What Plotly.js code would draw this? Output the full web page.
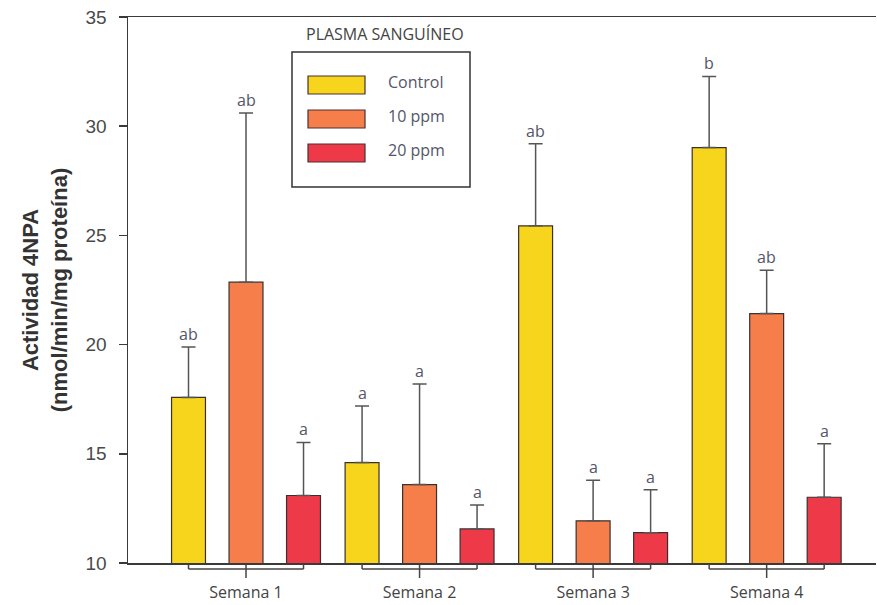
<!DOCTYPE html>
<html>
<head>
<meta charset="utf-8">
<script src="https://cdn.plot.ly/plotly-3.0.1.min.js"></script>
<style>
  html, body { margin: 0; padding: 0; background: #ffffff; }
  #chart { width: 877px; height: 605px; }
</style>
</head>
<body>
<div id="chart"></div>
<script>
// Weekly 4NPA activity in blood plasma, three treatment groups
const weeks = ["Semana 1", "Semana 2", "Semana 3", "Semana 4"];
const seriesNames = ["Control", "10 ppm", "20 ppm"];
const seriesColors = ["#F7D51C", "#F57E4B", "#EE3A48"];

const controlMean = [17.58, 14.60, 25.44, 29.02];
const ppm10Mean   = [22.86, 13.59, 11.93, 21.42];
const ppm20Mean   = [13.09, 11.56, 11.39, 13.01];

const controlErr = [2.31, 2.59, 3.76, 3.26];
const ppm10Err   = [7.74, 4.61, 1.86, 1.99];
const ppm20Err   = [2.43, 1.09, 1.96, 2.45];

// significance letters above each error bar
const controlLetters = ["ab", "a", "ab", "b"];
const ppm10Letters   = ["ab", "a", "a", "ab"];
const ppm20Letters   = ["a", "a", "a", "a"];

const legendTitle = "PLASMA SANGUÍNEO";
const yTitle = "Actividad 4NPA<br>(nmol/min/mg proteína)";

const means = [controlMean, ppm10Mean, ppm20Mean];
const errs = [controlErr, ppm10Err, ppm20Err];
const letters = [controlLetters, ppm10Letters, ppm20Letters];

const BARGAP = 0.006;
const BARGROUPGAP = 0.41;
const slot = (1 - BARGAP) / seriesNames.length;
const offsetOf = k => (k - (seriesNames.length - 1) / 2) * slot;

const lineCol = "#3a3a3a";
const textCol = "#55556a";
const sansCal = "'Open Sans', 'Noto Sans', sans-serif";
const arial = "'Liberation Sans', Arial, sans-serif";

const traces = seriesNames.map((name, k) => ({
  type: "bar",
  name: name,
  x: weeks,
  y: means[k],
  marker: { color: seriesColors[k], line: { color: "#3b3030", width: 1.2 } },
  error_y: {
    type: "data",
    array: errs[k],
    arrayminus: weeks.map(() => 0),
    symmetric: false,
    color: "#555555",
    thickness: 1.5,
    width: 7
  },
  showlegend: false,
  hoverinfo: "x+y"
}));

const annotations = [];
const shapes = [];

// letters above error caps
seriesNames.forEach((name, k) => {
  weeks.forEach((w, i) => {
    annotations.push({
      x: i + offsetOf(k), xref: "x",
      y: means[k][i] + errs[k][i], yref: "y",
      text: letters[k][i],
      showarrow: false,
      yanchor: "bottom",
      yshift: 0,
      font: { family: sansCal, size: 16, color: textCol }
    });
  });
});

// group brackets under the x axis
weeks.forEach((w, i) => {
  const xl = i + offsetOf(0), xr = i + offsetOf(seriesNames.length - 1);
  const common = { xref: "x", yref: "paper", ysizemode: "pixel", yanchor: 0,
                   line: { color: "#444444", width: 1.5 }, layer: "above" };
  shapes.push(Object.assign({ type: "line", x0: xl, x1: xr, y0: -6, y1: -6 }, common));
  shapes.push(Object.assign({ type: "line", x0: xl, x1: xl, y0: -1, y1: -6 }, common));
  shapes.push(Object.assign({ type: "line", x0: xr, x1: xr, y0: -1, y1: -6 }, common));
  shapes.push(Object.assign({ type: "line", x0: i, x1: i, y0: -2, y1: -15 }, common));
});

// boxed legend with the sample title above it
const LX0 = 292, LX1 = 470, LY0 = 52, LY1 = 187;   // pixels
const W = 877, H = 605, ML = 128, MR = 1, MT = 17, MB = 42;
const px = x => (x - ML) / (W - ML - MR);
const py = y => 1 - (y - MT) / (H - MT - MB);

shapes.push({ type: "rect", xref: "paper", yref: "paper",
  x0: px(LX0), x1: px(LX1), y0: py(LY1), y1: py(LY0),
  line: { color: "#333333", width: 1.5 }, fillcolor: "rgba(255,255,255,1)", layer: "above" });
annotations.push({ xref: "paper", yref: "paper", x: px(385), y: py(34),
  text: legendTitle, showarrow: false, xanchor: "center", yanchor: "middle",
  font: { family: sansCal, size: 16, color: "#444444" } });
seriesNames.forEach((name, k) => {
  const cy = 85 + k * 34;
  shapes.push({ type: "rect", xref: "paper", yref: "paper",
    x0: px(308), x1: px(365), y0: py(cy + 9), y1: py(cy - 9),
    line: { color: "#4a3030", width: 1.2 }, fillcolor: seriesColors[k], layer: "above" });
  annotations.push({ xref: "paper", yref: "paper", x: px(386), y: py(cy - 3),
    text: name, showarrow: false, xanchor: "left", yanchor: "middle",
    font: { family: sansCal, size: 16, color: textCol } });
});

const layout = {
  width: W, height: H,
  margin: { l: ML, r: MR, t: MT, b: MB, pad: 0 },
  paper_bgcolor: "#ffffff",
  plot_bgcolor: "#ffffff",
  barmode: "group",
  bargap: BARGAP,
  bargroupgap: BARGROUPGAP,
  showlegend: false,
  xaxis: {
    type: "category",
    range: [-0.68, 3.63],
    showline: true, linecolor: lineCol, linewidth: 1.5,
    mirror: true,
    ticks: "",
    ticklabelstandoff: 14,
    tickfont: { family: sansCal, size: 16, color: "#444444" },
    showgrid: false, zeroline: false, fixedrange: true
  },
  yaxis: {
    range: [10, 35],
    tickvals: [10, 15, 20, 25, 30, 35],
    ticktext: ["10", "15", "20", "25", "30", "35"],
    showline: true, linecolor: lineCol, linewidth: 1.5,
    ticks: "outside", ticklen: 8, tickwidth: 1.5, tickcolor: lineCol,
    ticklabelstandoff: 8,
    tickfont: { family: arial, size: 19, color: "#4a4a4a" },
    showgrid: false, zeroline: false,
    title: { text: yTitle, standoff: 12,
      font: { family: arial, size: 22, color: "#333333", weight: "bold" } }
  },
  shapes: shapes,
  annotations: annotations
};

Plotly.newPlot("chart", traces, layout, { displayModeBar: false, staticPlot: true });
</script>
</body>
</html>
